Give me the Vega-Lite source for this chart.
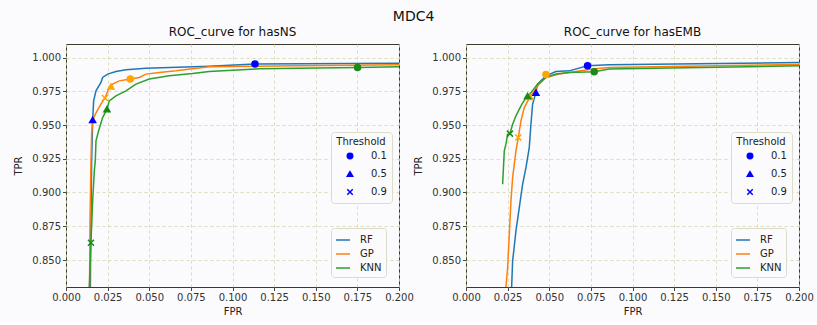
{
  "$schema": "https://vega.github.io/schema/vega-lite/v6.json",
  "background": "#fbfbfd",
  "padding": {"top": 9, "left": 13, "right": 5, "bottom": 5},
  "title": {"text": "MDC4", "fontSize": 14, "fontWeight": "normal", "font": "DejaVu Sans", "color": "#111", "anchor": "middle", "offset": 2},
  "datasets": {
    "curves": [
      {"panel": "hasNS", "model": "RF", "fpr": 0.0145, "tpr": 0.80},
      {"panel": "hasNS", "model": "RF", "fpr": 0.0148, "tpr": 0.86},
      {"panel": "hasNS", "model": "RF", "fpr": 0.0154, "tpr": 0.9234},
      {"panel": "hasNS", "model": "RF", "fpr": 0.016, "tpr": 0.9531},
      {"panel": "hasNS", "model": "RF", "fpr": 0.0166, "tpr": 0.9679},
      {"panel": "hasNS", "model": "RF", "fpr": 0.018, "tpr": 0.9753},
      {"panel": "hasNS", "model": "RF", "fpr": 0.021, "tpr": 0.9815},
      {"panel": "hasNS", "model": "RF", "fpr": 0.022, "tpr": 0.9852},
      {"panel": "hasNS", "model": "RF", "fpr": 0.025, "tpr": 0.9877},
      {"panel": "hasNS", "model": "RF", "fpr": 0.030, "tpr": 0.9896},
      {"panel": "hasNS", "model": "RF", "fpr": 0.036, "tpr": 0.9909},
      {"panel": "hasNS", "model": "RF", "fpr": 0.048, "tpr": 0.9921},
      {"panel": "hasNS", "model": "RF", "fpr": 0.086, "tpr": 0.9936},
      {"panel": "hasNS", "model": "RF", "fpr": 0.1135, "tpr": 0.9951},
      {"panel": "hasNS", "model": "RF", "fpr": 0.2, "tpr": 0.9958},
      {"panel": "hasNS", "model": "GP", "fpr": 0.0140, "tpr": 0.80},
      {"panel": "hasNS", "model": "GP", "fpr": 0.0142, "tpr": 0.840},
      {"panel": "hasNS", "model": "GP", "fpr": 0.0144, "tpr": 0.8767},
      {"panel": "hasNS", "model": "GP", "fpr": 0.015, "tpr": 0.9234},
      {"panel": "hasNS", "model": "GP", "fpr": 0.0154, "tpr": 0.9432},
      {"panel": "hasNS", "model": "GP", "fpr": 0.016, "tpr": 0.9531},
      {"panel": "hasNS", "model": "GP", "fpr": 0.0176, "tpr": 0.958},
      {"panel": "hasNS", "model": "GP", "fpr": 0.021, "tpr": 0.9654},
      {"panel": "hasNS", "model": "GP", "fpr": 0.0234, "tpr": 0.970},
      {"panel": "hasNS", "model": "GP", "fpr": 0.026, "tpr": 0.9778},
      {"panel": "hasNS", "model": "GP", "fpr": 0.028, "tpr": 0.9803},
      {"panel": "hasNS", "model": "GP", "fpr": 0.032, "tpr": 0.9827},
      {"panel": "hasNS", "model": "GP", "fpr": 0.0386, "tpr": 0.984},
      {"panel": "hasNS", "model": "GP", "fpr": 0.044, "tpr": 0.9852},
      {"panel": "hasNS", "model": "GP", "fpr": 0.048, "tpr": 0.9877},
      {"panel": "hasNS", "model": "GP", "fpr": 0.056, "tpr": 0.9889},
      {"panel": "hasNS", "model": "GP", "fpr": 0.066, "tpr": 0.9901},
      {"panel": "hasNS", "model": "GP", "fpr": 0.086, "tpr": 0.9931},
      {"panel": "hasNS", "model": "GP", "fpr": 0.14, "tpr": 0.9938},
      {"panel": "hasNS", "model": "GP", "fpr": 0.2, "tpr": 0.9946},
      {"panel": "hasNS", "model": "KNN", "fpr": 0.0138, "tpr": 0.80},
      {"panel": "hasNS", "model": "KNN", "fpr": 0.014, "tpr": 0.830},
      {"panel": "hasNS", "model": "KNN", "fpr": 0.015, "tpr": 0.8628},
      {"panel": "hasNS", "model": "KNN", "fpr": 0.016, "tpr": 0.8937},
      {"panel": "hasNS", "model": "KNN", "fpr": 0.017, "tpr": 0.916},
      {"panel": "hasNS", "model": "KNN", "fpr": 0.0176, "tpr": 0.9234},
      {"panel": "hasNS", "model": "KNN", "fpr": 0.018, "tpr": 0.9382},
      {"panel": "hasNS", "model": "KNN", "fpr": 0.0196, "tpr": 0.9457},
      {"panel": "hasNS", "model": "KNN", "fpr": 0.022, "tpr": 0.9555},
      {"panel": "hasNS", "model": "KNN", "fpr": 0.0246, "tpr": 0.9617},
      {"panel": "hasNS", "model": "KNN", "fpr": 0.026, "tpr": 0.9679},
      {"panel": "hasNS", "model": "KNN", "fpr": 0.030, "tpr": 0.9716},
      {"panel": "hasNS", "model": "KNN", "fpr": 0.036, "tpr": 0.9753},
      {"panel": "hasNS", "model": "KNN", "fpr": 0.042, "tpr": 0.9803},
      {"panel": "hasNS", "model": "KNN", "fpr": 0.050, "tpr": 0.984},
      {"panel": "hasNS", "model": "KNN", "fpr": 0.062, "tpr": 0.9864},
      {"panel": "hasNS", "model": "KNN", "fpr": 0.076, "tpr": 0.9881},
      {"panel": "hasNS", "model": "KNN", "fpr": 0.086, "tpr": 0.9896},
      {"panel": "hasNS", "model": "KNN", "fpr": 0.116, "tpr": 0.9916},
      {"panel": "hasNS", "model": "KNN", "fpr": 0.1751, "tpr": 0.9926},
      {"panel": "hasNS", "model": "KNN", "fpr": 0.2, "tpr": 0.9931},
      {"panel": "hasEMB", "model": "RF", "fpr": 0.027, "tpr": 0.80},
      {"panel": "hasEMB", "model": "RF", "fpr": 0.0274, "tpr": 0.830},
      {"panel": "hasEMB", "model": "RF", "fpr": 0.028, "tpr": 0.8492},
      {"panel": "hasEMB", "model": "RF", "fpr": 0.030, "tpr": 0.8715},
      {"panel": "hasEMB", "model": "RF", "fpr": 0.032, "tpr": 0.8888},
      {"panel": "hasEMB", "model": "RF", "fpr": 0.034, "tpr": 0.9061},
      {"panel": "hasEMB", "model": "RF", "fpr": 0.036, "tpr": 0.9184},
      {"panel": "hasEMB", "model": "RF", "fpr": 0.038, "tpr": 0.9333},
      {"panel": "hasEMB", "model": "RF", "fpr": 0.039, "tpr": 0.9506},
      {"panel": "hasEMB", "model": "RF", "fpr": 0.040, "tpr": 0.9654},
      {"panel": "hasEMB", "model": "RF", "fpr": 0.042, "tpr": 0.974},
      {"panel": "hasEMB", "model": "RF", "fpr": 0.043, "tpr": 0.9803},
      {"panel": "hasEMB", "model": "RF", "fpr": 0.048, "tpr": 0.9864},
      {"panel": "hasEMB", "model": "RF", "fpr": 0.054, "tpr": 0.9896},
      {"panel": "hasEMB", "model": "RF", "fpr": 0.062, "tpr": 0.9901},
      {"panel": "hasEMB", "model": "RF", "fpr": 0.073, "tpr": 0.9938},
      {"panel": "hasEMB", "model": "RF", "fpr": 0.086, "tpr": 0.9946},
      {"panel": "hasEMB", "model": "RF", "fpr": 0.2, "tpr": 0.9963},
      {"panel": "hasEMB", "model": "GP", "fpr": 0.0235, "tpr": 0.80},
      {"panel": "hasEMB", "model": "GP", "fpr": 0.024, "tpr": 0.830},
      {"panel": "hasEMB", "model": "GP", "fpr": 0.025, "tpr": 0.8443},
      {"panel": "hasEMB", "model": "GP", "fpr": 0.026, "tpr": 0.869},
      {"panel": "hasEMB", "model": "GP", "fpr": 0.027, "tpr": 0.8937},
      {"panel": "hasEMB", "model": "GP", "fpr": 0.028, "tpr": 0.911},
      {"panel": "hasEMB", "model": "GP", "fpr": 0.030, "tpr": 0.9308},
      {"panel": "hasEMB", "model": "GP", "fpr": 0.0314, "tpr": 0.9407},
      {"panel": "hasEMB", "model": "GP", "fpr": 0.033, "tpr": 0.9531},
      {"panel": "hasEMB", "model": "GP", "fpr": 0.035, "tpr": 0.9629},
      {"panel": "hasEMB", "model": "GP", "fpr": 0.0384, "tpr": 0.9709},
      {"panel": "hasEMB", "model": "GP", "fpr": 0.041, "tpr": 0.9753},
      {"panel": "hasEMB", "model": "GP", "fpr": 0.044, "tpr": 0.9803},
      {"panel": "hasEMB", "model": "GP", "fpr": 0.048, "tpr": 0.9852},
      {"panel": "hasEMB", "model": "GP", "fpr": 0.056, "tpr": 0.9877},
      {"panel": "hasEMB", "model": "GP", "fpr": 0.066, "tpr": 0.9896},
      {"panel": "hasEMB", "model": "GP", "fpr": 0.076, "tpr": 0.9914},
      {"panel": "hasEMB", "model": "GP", "fpr": 0.086, "tpr": 0.9926},
      {"panel": "hasEMB", "model": "GP", "fpr": 0.2, "tpr": 0.9948},
      {"panel": "hasEMB", "model": "KNN", "fpr": 0.022, "tpr": 0.9061},
      {"panel": "hasEMB", "model": "KNN", "fpr": 0.0224, "tpr": 0.916},
      {"panel": "hasEMB", "model": "KNN", "fpr": 0.023, "tpr": 0.9308},
      {"panel": "hasEMB", "model": "KNN", "fpr": 0.024, "tpr": 0.9358},
      {"panel": "hasEMB", "model": "KNN", "fpr": 0.025, "tpr": 0.9432},
      {"panel": "hasEMB", "model": "KNN", "fpr": 0.0264, "tpr": 0.9436},
      {"panel": "hasEMB", "model": "KNN", "fpr": 0.028, "tpr": 0.9506},
      {"panel": "hasEMB", "model": "KNN", "fpr": 0.030, "tpr": 0.9568},
      {"panel": "hasEMB", "model": "KNN", "fpr": 0.033, "tpr": 0.9642},
      {"panel": "hasEMB", "model": "KNN", "fpr": 0.036, "tpr": 0.9703},
      {"panel": "hasEMB", "model": "KNN", "fpr": 0.039, "tpr": 0.974},
      {"panel": "hasEMB", "model": "KNN", "fpr": 0.043, "tpr": 0.9803},
      {"panel": "hasEMB", "model": "KNN", "fpr": 0.048, "tpr": 0.9852},
      {"panel": "hasEMB", "model": "KNN", "fpr": 0.054, "tpr": 0.9877},
      {"panel": "hasEMB", "model": "KNN", "fpr": 0.062, "tpr": 0.9889},
      {"panel": "hasEMB", "model": "KNN", "fpr": 0.077, "tpr": 0.9894},
      {"panel": "hasEMB", "model": "KNN", "fpr": 0.086, "tpr": 0.9914},
      {"panel": "hasEMB", "model": "KNN", "fpr": 0.2, "tpr": 0.9938}
    ],
    "points": [
      {"panel": "hasNS", "model": "RF", "threshold": "0.1", "fpr": 0.1135, "tpr": 0.9951},
      {"panel": "hasNS", "model": "RF", "threshold": "0.5", "fpr": 0.016, "tpr": 0.9538},
      {"panel": "hasNS", "model": "GP", "threshold": "0.1", "fpr": 0.0386, "tpr": 0.984},
      {"panel": "hasNS", "model": "GP", "threshold": "0.5", "fpr": 0.027, "tpr": 0.9785},
      {"panel": "hasNS", "model": "GP", "threshold": "0.9", "fpr": 0.0234, "tpr": 0.970},
      {"panel": "hasNS", "model": "KNN", "threshold": "0.1", "fpr": 0.1751, "tpr": 0.9926},
      {"panel": "hasNS", "model": "KNN", "threshold": "0.5", "fpr": 0.0246, "tpr": 0.9617},
      {"panel": "hasNS", "model": "KNN", "threshold": "0.9", "fpr": 0.015, "tpr": 0.8628},
      {"panel": "hasEMB", "model": "RF", "threshold": "0.1", "fpr": 0.073, "tpr": 0.9938},
      {"panel": "hasEMB", "model": "RF", "threshold": "0.5", "fpr": 0.042, "tpr": 0.974},
      {"panel": "hasEMB", "model": "GP", "threshold": "0.1", "fpr": 0.048, "tpr": 0.9875},
      {"panel": "hasEMB", "model": "GP", "threshold": "0.5", "fpr": 0.0384, "tpr": 0.9709},
      {"panel": "hasEMB", "model": "GP", "threshold": "0.9", "fpr": 0.0314, "tpr": 0.9407},
      {"panel": "hasEMB", "model": "KNN", "threshold": "0.1", "fpr": 0.077, "tpr": 0.9894},
      {"panel": "hasEMB", "model": "KNN", "threshold": "0.5", "fpr": 0.037, "tpr": 0.9715},
      {"panel": "hasEMB", "model": "KNN", "threshold": "0.9", "fpr": 0.0264, "tpr": 0.9436}
    ]
  },
  "spacing": 67,
  "bounds": "flush",
  "resolve": {
    "scale": {"color": "independent", "shape": "independent", "fill": "independent", "stroke": "independent"},
    "legend": {"color": "independent", "shape": "independent"}
  },
  "hconcat": [
    {
      "title": {"text": "ROC_curve for hasNS"},
      "width": 333,
      "height": 243,
      "encoding": {
        "x": {"field": "fpr", "type": "quantitative", "title": "FPR", "scale": {"domain": [0, 0.2], "nice": false, "zero": false}, "axis": {"values": [0, 0.025, 0.05, 0.075, 0.1, 0.125, 0.15, 0.175, 0.2], "format": ".3f"}},
        "y": {"field": "tpr", "type": "quantitative", "title": "TPR", "scale": {"domain": [0.83, 1.01], "nice": false, "zero": false}, "axis": {"values": [0.85, 0.875, 0.9, 0.925, 0.95, 0.975, 1.0], "format": ".3f"}}
      },
      "layer": [
        {
          "data": {"name": "curves"},
          "transform": [{"filter": "datum.panel === 'hasNS'"}],
          "mark": {"type": "line", "strokeWidth": 1.5, "clip": true, "interpolate": "linear"},
          "encoding": {
            "order": {"field": "tpr", "type": "quantitative"},
            "color": {"field": "model", "type": "nominal", "scale": {"domain": ["RF", "GP", "KNN"], "range": ["#1f77b4", "#ff7f0e", "#2ca02c"]},
              "legend": {"title": null, "orient": "none", "legendX": 265, "legendY": 184, "symbolType": "stroke", "symbolSize": 196, "symbolStrokeWidth": 1.5, "rowPadding": 1, "padding": 4, "labelOffset": 9, "symbolOffset": 0}}
          }
        },
        {
          "data": {"name": "points"},
          "transform": [{"filter": "datum.panel === 'hasNS'"}],
          "mark": {"type": "point", "opacity": 1, "strokeWidth": 1.5, "size": 36, "clip": true},
          "encoding": {
            "fill": {"field": "model", "type": "nominal", "scale": {"domain": ["RF", "GP", "KNN"], "range": ["#0000ff", "#ffa500", "#1a8a1a"]}, "legend": null},
            "stroke": {"field": "model", "type": "nominal", "scale": {"domain": ["RF", "GP", "KNN"], "range": ["#0000ff", "#ffa500", "#1a8a1a"]}, "legend": null},
            "shape": {"field": "threshold", "type": "nominal", "scale": {"domain": ["0.1", "0.5", "0.9"], "range": ["circle", "triangle-up", "M-1,-1L1,1M-1,1L1,-1"]},
              "legend": {"title": "Threshold", "orient": "none", "legendX": 265, "legendY": 88, "titleAnchor": "middle", "symbolFillColor": "#0000ff", "symbolStrokeColor": "#0000ff", "symbolStrokeWidth": 1.5, "symbolSize": 30, "symbolOffset": 9, "labelOffset": 16, "rowPadding": 6, "padding": 5, "titlePadding": 4}}
          }
        }
      ]
    },
    {
      "title": {"text": "ROC_curve for hasEMB"},
      "width": 333,
      "height": 243,
      "encoding": {
        "x": {"field": "fpr", "type": "quantitative", "title": "FPR", "scale": {"domain": [0, 0.2], "nice": false, "zero": false}, "axis": {"values": [0, 0.025, 0.05, 0.075, 0.1, 0.125, 0.15, 0.175, 0.2], "format": ".3f"}},
        "y": {"field": "tpr", "type": "quantitative", "title": "TPR", "scale": {"domain": [0.83, 1.01], "nice": false, "zero": false}, "axis": {"values": [0.85, 0.875, 0.9, 0.925, 0.95, 0.975, 1.0], "format": ".3f"}}
      },
      "layer": [
        {
          "data": {"name": "curves"},
          "transform": [{"filter": "datum.panel === 'hasEMB'"}],
          "mark": {"type": "line", "strokeWidth": 1.5, "clip": true, "interpolate": "linear"},
          "encoding": {
            "order": {"field": "tpr", "type": "quantitative"},
            "color": {"field": "model", "type": "nominal", "scale": {"domain": ["RF", "GP", "KNN"], "range": ["#1f77b4", "#ff7f0e", "#2ca02c"]},
              "legend": {"title": null, "orient": "none", "legendX": 265, "legendY": 184, "symbolType": "stroke", "symbolSize": 196, "symbolStrokeWidth": 1.5, "rowPadding": 1, "padding": 4, "labelOffset": 9, "symbolOffset": 0}}
          }
        },
        {
          "data": {"name": "points"},
          "transform": [{"filter": "datum.panel === 'hasEMB'"}],
          "mark": {"type": "point", "opacity": 1, "strokeWidth": 1.5, "size": 36, "clip": true},
          "encoding": {
            "fill": {"field": "model", "type": "nominal", "scale": {"domain": ["RF", "GP", "KNN"], "range": ["#0000ff", "#ffa500", "#1a8a1a"]}, "legend": null},
            "stroke": {"field": "model", "type": "nominal", "scale": {"domain": ["RF", "GP", "KNN"], "range": ["#0000ff", "#ffa500", "#1a8a1a"]}, "legend": null},
            "shape": {"field": "threshold", "type": "nominal", "scale": {"domain": ["0.1", "0.5", "0.9"], "range": ["circle", "triangle-up", "M-1,-1L1,1M-1,1L1,-1"]},
              "legend": {"title": "Threshold", "orient": "none", "legendX": 265, "legendY": 88, "titleAnchor": "middle", "symbolFillColor": "#0000ff", "symbolStrokeColor": "#0000ff", "symbolStrokeWidth": 1.5, "symbolSize": 30, "symbolOffset": 9, "labelOffset": 16, "rowPadding": 6, "padding": 5, "titlePadding": 4}}
          }
        }
      ]
    }
  ],
  "config": {
    "font": "DejaVu Sans",
    "view": {"stroke": "#3a3a2a", "strokeWidth": 1},
    "title": {"fontSize": 12, "fontWeight": "normal", "color": "#111", "offset": 5},
    "axis": {
      "domain": false,
      "labelFontSize": 10, "labelColor": "#333", "titleFontSize": 10, "titleFontWeight": "normal", "titleColor": "#222",
      "tickColor": "#444", "tickSize": 3.5, "labelPadding": 2, "labelOverlap": false, "labelFlush": false, "labelBound": false,
      "grid": true, "gridDash": [3, 3], "gridColor": "#d4d4a8", "gridOpacity": 1, "gridWidth": 0.8
    },
    "axisX": {"titlePadding": 4},
    "axisY": {"titlePadding": 8},
    "legend": {"labelFontSize": 10, "titleFontSize": 10, "titleFontWeight": "normal", "labelColor": "#222", "titleColor": "#222", "fillColor": "#fbfbfd", "strokeColor": "#dcdcc8", "cornerRadius": 3}
  }
}
